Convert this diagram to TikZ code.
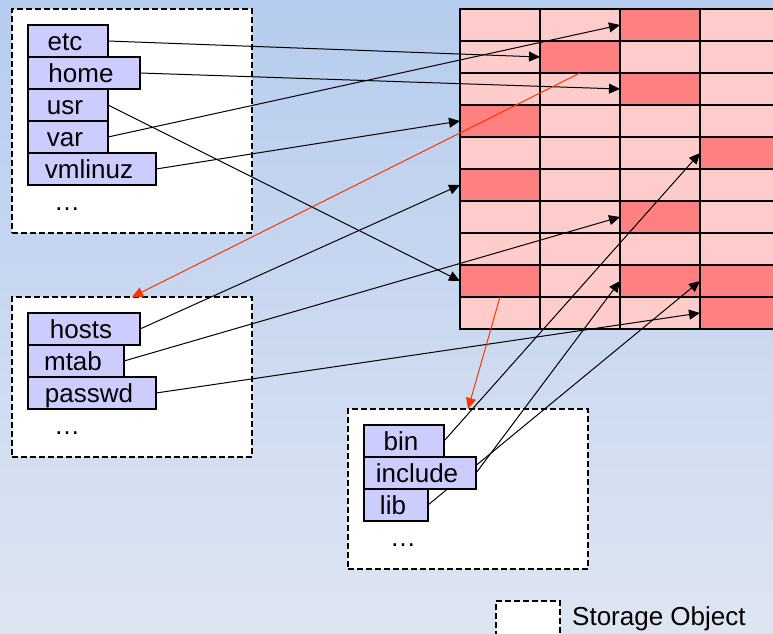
\documentclass[tikz,border=0pt]{standalone}
\usepackage{fontspec}
\setmainfont{Liberation Sans}
\usetikzlibrary{arrows.meta, positioning}
\definecolor{SkyTop}{RGB}{182,204,238}
\definecolor{SkyBottom}{RGB}{222,229,242}
\definecolor{BlockLight}{RGB}{255,204,204}
\definecolor{BlockHot}{RGB}{255,128,128}
\definecolor{EntryBlue}{RGB}{204,204,255}
\definecolor{LinkRed}{RGB}{255,51,0}
\pgfdeclarelayer{back}
\pgfdeclarelayer{links}
\pgfsetlayers{back,links,main}

\begin{document}
\begin{tikzpicture}[x=1pt, y=-1pt, >={Triangle[length=11pt, width=10pt]},
    font=\fontsize{26}{30}\selectfont,
    store/.style={draw, fill=white, line width=2.7pt, dash pattern=on 6pt off 3pt,
        anchor=north west, inner sep=0pt, outer sep=0pt},
    entry/.style={draw, fill=EntryBlue, line width=1.5pt, anchor=north west,
        minimum height=32pt, inner sep=0pt, outer sep=0pt, text height=20pt, text depth=2pt,
        execute at begin node={\hspace*{-6pt}}},
    more/.style={anchor=base west, inner sep=0pt},
    cell/.style={draw, fill=BlockLight, line width=2pt, minimum width=80pt,
        minimum height=32pt, inner sep=0pt, outer sep=0pt},
    link/.style={->, line width=1pt},
    fslink/.style={->, line width=1pt, LinkRed}]
    \useasboundingbox (0,0) rectangle (773,633);

    \begin{pgfonlayer}{back}
        % Background
        \shade [top color=SkyTop, bottom color=SkyBottom] (0,0) rectangle (773,633);

        % Storage objects
        \node [store, minimum width=240pt, minimum height=224pt] (root) at (12,9) {};
        \node [store, minimum width=240pt, minimum height=160pt] (etcdir) at (12,297) {};
        \node [store, minimum width=240pt, minimum height=160pt] (usrdir) at (348,409) {};

        % Legend
        \node [store, minimum width=64pt, minimum height=40pt] (key) at (496,601) {};
        \node [anchor=west, inner sep=0pt] (keytext) at (572,619) {Storage Object};

        % Block grid
        \foreach \r in {0,...,9}
            \foreach \c in {0,...,3}
                \node [cell] (cell-\r-\c) at (500+80*\c, 25+32*\r) {};
        \foreach \r/\c in {0/2, 1/1, 2/2, 3/0, 4/3, 5/0, 6/2, 8/0, 8/2, 8/3, 9/3}
            \draw [fill=BlockHot, line width=2pt] (cell-\r-\c.north west) rectangle (cell-\r-\c.south east);
    \end{pgfonlayer}

    % Root directory
    \node [entry, minimum width=80pt] (etc) at ([shift={(16,16)}]root.north west) {etc};
    \node [entry, minimum width=112pt] (home) at (etc.south west) {home};
    \node [entry, minimum width=80pt] (usr) at (home.south west) {usr};
    \node [entry, minimum width=80pt] (var) at (usr.south west) {var};
    \node [entry, minimum width=128pt] (vmlinuz) at (var.south west) {vmlinuz};
    \node [more] (rootmore) at ([shift={(26,25)}]vmlinuz.south west) {…};

    % /etc directory
    \node [entry, minimum width=112pt] (hosts) at ([shift={(16,16)}]etcdir.north west) {hosts};
    \node [entry, minimum width=96pt] (mtab) at (hosts.south west) {mtab};
    \node [entry, minimum width=128pt] (passwd) at (mtab.south west) {passwd};
    \node [more] (etcmore) at ([shift={(26,25)}]passwd.south west) {…};

    % /usr directory
    \node [entry, minimum width=80pt] (bin) at ([shift={(16,16)}]usrdir.north west) {bin};
    \node [entry, minimum width=112pt] (include) at (bin.south west) {include};
    \node [entry, minimum width=64pt] (lib) at (include.south west) {lib};
    \node [more] (usrmore) at ([shift={(26,25)}]lib.south west) {…};

    \begin{pgfonlayer}{links}
        % Entries to blocks
        \draw [link] (etc.east) -- (cell-1-1.west);
        \draw [link] (home.east) -- (cell-2-2.west);
        \draw [link] (usr.east) -- (cell-8-0.west);
        \draw [link] (var.east) -- (cell-0-2.west);
        \draw [link] (vmlinuz.east) -- (cell-3-0.west);
        \draw [link] (hosts.east) -- (cell-5-0.west);
        \draw [link] (mtab.east) -- (cell-6-2.west);
        \draw [link] (passwd.east) -- (cell-9-3.west);
        \draw [link] (bin.east) -- (cell-4-3.west);
        \draw [link] (include.east) -- (cell-8-2.west);
        \draw [link] (lib.east) -- (cell-8-3.west);

        % Blocks holding directories
        \draw [fslink] (cell-1-1.south) -- (etcdir.north);
        \draw [fslink] (cell-8-0.south) -- (usrdir.north);
    \end{pgfonlayer}
\end{tikzpicture}
\end{document}
